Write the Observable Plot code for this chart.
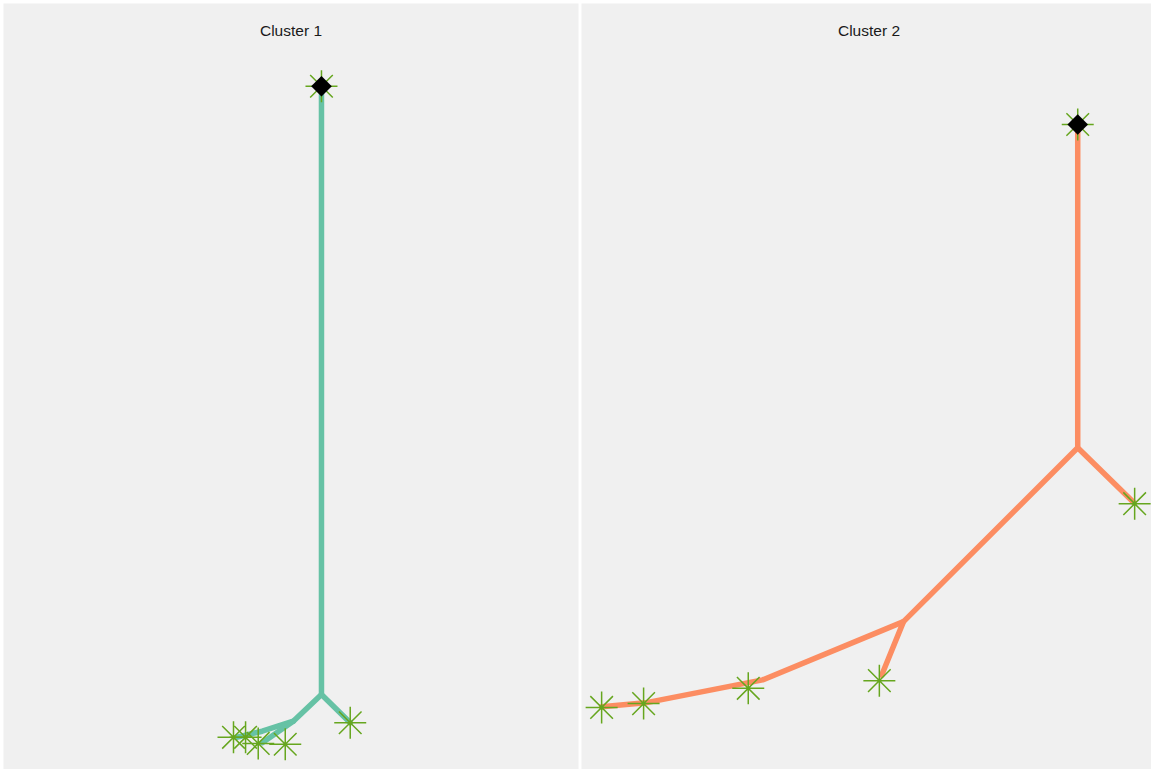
<!DOCTYPE html>
<html>
<head>
<meta charset="utf-8">
<script src="https://cdn.jsdelivr.net/npm/d3@7"></script>
<script src="https://cdn.jsdelivr.net/npm/@observablehq/plot@0.6"></script>
<style>
  html, body { margin: 0; padding: 0; background: #ffffff; overflow: hidden; }
</style>
</head>
<body>
<div id="chart"></div>
<script>
// Panels, one per cluster
const clusters = ["Cluster 1", "Cluster 2"];
const clusterColors = ["#66C2A5", "#FC8D62"];

// Trajectory tree: each branch is a polyline in the embedding (dim1, dim2)
const pathCluster = [
  "Cluster 1", "Cluster 1", "Cluster 1",
  "Cluster 1", "Cluster 1", "Cluster 1", "Cluster 1",
  "Cluster 1", "Cluster 1",
  "Cluster 2", "Cluster 2", "Cluster 2",
  "Cluster 2", "Cluster 2", "Cluster 2", "Cluster 2", "Cluster 2",
  "Cluster 2", "Cluster 2"
];
const pathBranch = [
  "1a", "1a", "1a",
  "1b", "1b", "1b", "1b",
  "1c", "1c",
  "2a", "2a", "2a",
  "2b", "2b", "2b", "2b", "2b",
  "2c", "2c"
];
const pathDim1 = [
  55.3, 55.3, 60.3,
  55.3, 50.4, 45.0, 40.5,
  50.4, 45.0,
  86.3, 86.3, 96.0,
  86.3, 56.0, 31.5, 11.1, 3.5,
  56.0, 52.2
];
const pathDim2 = [
  89.2, 9.8, 6.1,
  9.8, 6.3, 5.0, 4.2,
  6.3, 3.5,
  84.2, 42.0, 34.9,
  42.0, 19.3, 11.7, 8.7, 8.2,
  19.3, 12.3
];

// Cluster centres shown as asterisks
const centreCluster = [
  "Cluster 1", "Cluster 1", "Cluster 1", "Cluster 1", "Cluster 1", "Cluster 1",
  "Cluster 2", "Cluster 2", "Cluster 2", "Cluster 2", "Cluster 2", "Cluster 2"
];
const centreDim1 = [55.3, 60.3, 40.0, 42.1, 44.3, 49.0, 86.3, 96.2, 51.8, 29.0, 10.8, 3.5];
const centreDim2 = [89.2, 6.1, 4.2, 4.2, 3.4, 3.3, 84.2, 34.7, 11.6, 10.6, 8.6, 8.1];

// Root (starting) node of each tree
const rootCluster = ["Cluster 1", "Cluster 2"];
const rootDim1 = [55.3, 86.3];
const rootDim2 = [89.2, 84.2];

const paths = pathCluster.map((c, i) => ({cluster: c, branch: pathBranch[i], dim1: pathDim1[i], dim2: pathDim2[i]}));
const centres = centreCluster.map((c, i) => ({cluster: c, dim1: centreDim1[i], dim2: centreDim2[i]}));
const roots = rootCluster.map((c, i) => ({cluster: c, dim1: rootDim1[i], dim2: rootDim2[i]}));

// Eight-armed asterisk (plus overlaid with times), arms of equal length
const asterisk8 = {
  draw(context, size) {
    const r = Math.sqrt(size / Math.PI);
    const d = r * Math.SQRT1_2;
    context.moveTo(-r, 0); context.lineTo(r, 0);
    context.moveTo(0, -r); context.lineTo(0, r);
    context.moveTo(-d, -d); context.lineTo(d, d);
    context.moveTo(-d, d); context.lineTo(d, -d);
  }
};

const chart = Plot.plot({
  width: 1159,
  height: 772,
  marginTop: 3,
  marginBottom: 3,
  marginLeft: 3,
  marginRight: 3,
  style: {fontFamily: "'Liberation Sans', Arial, sans-serif", background: "#ffffff", maxWidth: "none"},
  fx: {domain: clusters, axis: null, paddingInner: 3 / 578, paddingOuter: 0},
  x: {domain: [0, 100], axis: null},
  y: {domain: [0, 100], axis: null},
  color: {domain: clusters, range: clusterColors},
  marks: [
    Plot.frame({fill: "#F0F0F0", stroke: null}),
    Plot.text(clusters, {
      fx: d => d, text: d => d, frameAnchor: "top", lineAnchor: "middle",
      dy: 28, fontSize: 15.5, fill: "#1a1a1a"
    }),
    Plot.line(paths, {
      fx: "cluster", x: "dim1", y: "dim2", z: "branch", stroke: "cluster",
      strokeWidth: 5.5, strokeLinejoin: "round", strokeLinecap: "round"
    }),
    Plot.dot(centres, {
      fx: "cluster", x: "dim1", y: "dim2", symbol: asterisk8, r: 16,
      fill: "none", stroke: "#66A61E", strokeWidth: 1.5
    }),
    Plot.dot(roots, {
      fx: "cluster", x: "dim1", y: "dim2", symbol: "diamond2", r: 9.3,
      fill: "#000000", stroke: "none"
    })
  ]
});

document.getElementById("chart").appendChild(chart);
</script>
</body>
</html>
